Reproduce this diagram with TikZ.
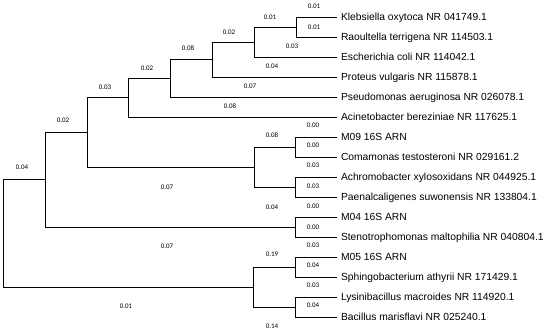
\documentclass[tikz,border=0pt]{standalone}
\usepackage{fontspec}
\setmainfont{Liberation Sans}
\newfontfamily\numfont{Carlito}
\tikzset{
  taxon/.style={anchor=west, inner xsep=4pt, inner ysep=0pt, outer sep=0pt,
    text height=7.4pt, text depth=0pt, font=\fontsize{10.3}{12}\selectfont},
  blen/.style={inner sep=0pt, font=\numfont\fontsize{7}{8}\selectfont},
  branch/.style={line width=0.9pt}
}
\begin{document}
\begin{tikzpicture}[x=1pt, y=-1pt]
\useasboundingbox (0,0) rectangle (550,335);
% leaves
\node[taxon] (v0) at (337,17) {Klebsiella oxytoca NR 041749.1};
\node[taxon] (v1) at (337,37) {Raoultella terrigena NR 114503.1};
\node[taxon] (v2) at (337,57) {Escherichia coli NR 114042.1};
\node[taxon] (v3) at (337,77) {Proteus vulgaris NR 115878.1};
\node[taxon] (v4) at (337,97) {Pseudomonas aeruginosa NR 026078.1};
\node[taxon] (v5) at (337,117) {Acinetobacter bereziniae NR 117625.1};
\node[taxon] (v6) at (337,137) {M09 16S ARN};
\node[taxon] (v7) at (337,157) {Comamonas testosteroni NR 029161.2};
\node[taxon] (v8) at (337,177) {Achromobacter xylosoxidans NR 044925.1};
\node[taxon] (v9) at (337,197) {Paenalcaligenes suwonensis NR 133804.1};
\node[taxon] (v10) at (337,217) {M04 16S ARN};
\node[taxon] (v11) at (337,237) {Stenotrophomonas maltophilia NR 040804.1};
\node[taxon] (v12) at (337,257) {M05 16S ARN};
\node[taxon] (v13) at (337,277) {Sphingobacterium athyrii NR 171429.1};
\node[taxon] (v14) at (337,297) {Lysinibacillus macroides NR 114920.1};
\node[taxon] (v15) at (337,317) {Bacillus marisflavi NR 025240.1};
% internal nodes
\coordinate (n0) at (296,27);
\coordinate (n1) at (254,42);
\coordinate (n2) at (212,59.5);
\coordinate (n3) at (170,78);
\coordinate (n4) at (128,97.5);
\coordinate (n5) at (295,147);
\coordinate (n6) at (295,187);
\coordinate (n7) at (254,167);
\coordinate (n8) at (87,132);
\coordinate (n9) at (295,227);
\coordinate (n10) at (45,179.5);
\coordinate (n11) at (295,267);
\coordinate (n12) at (295,307);
\coordinate (n13) at (253,287);
\coordinate (n14) at (3,233);
% branches
\draw[branch] (n0) |- (v0);
\draw[branch] (n0) |- (v1);
\draw[branch] (n1) |- (n0);
\draw[branch] (n1) |- (v2);
\draw[branch] (n2) |- (n1);
\draw[branch] (n2) |- (v3);
\draw[branch] (n3) |- (n2);
\draw[branch] (n3) |- (v4);
\draw[branch] (n4) |- (n3);
\draw[branch] (n4) |- (v5);
\draw[branch] (n5) |- (v6);
\draw[branch] (n5) |- (v7);
\draw[branch] (n6) |- (v8);
\draw[branch] (n6) |- (v9);
\draw[branch] (n7) |- (n5);
\draw[branch] (n7) |- (n6);
\draw[branch] (n8) |- (n4);
\draw[branch] (n8) |- (n7);
\draw[branch] (n9) |- (v10);
\draw[branch] (n9) |- (v11);
\draw[branch] (n10) |- (n8);
\draw[branch] (n10) |- (n9);
\draw[branch] (n11) |- (v12);
\draw[branch] (n11) |- (v13);
\draw[branch] (n12) |- (v14);
\draw[branch] (n12) |- (v15);
\draw[branch] (n13) |- (n11);
\draw[branch] (n13) |- (n12);
\draw[branch] (n14) |- (n10);
\draw[branch] (n14) |- (n13);
% branch lengths
\node[blen] (w0) at (314,6) {0.01};
\node[blen] (w1) at (314,27) {0.01};
\node[blen] (w2) at (292,46) {0.03};
\node[blen] (w3) at (272,66) {0.04};
\node[blen] (w4) at (250,86) {0.07};
\node[blen] (w5) at (230,106) {0.08};
\node[blen] (w6) at (313,125) {0.00};
\node[blen] (w7) at (313,145) {0.00};
\node[blen] (w8) at (313,165) {0.03};
\node[blen] (w9) at (313,186) {0.03};
\node[blen] (w10) at (313,206) {0.00};
\node[blen] (w11) at (313,227) {0.00};
\node[blen] (w12) at (313,245) {0.03};
\node[blen] (w13) at (313,265) {0.04};
\node[blen] (w14) at (313,285) {0.03};
\node[blen] (w15) at (313,305) {0.04};
\node[blen] (w16) at (270,17) {0.01};
\node[blen] (w17) at (229,32) {0.02};
\node[blen] (w18) at (188,48) {0.08};
\node[blen] (w19) at (147,68) {0.02};
\node[blen] (w20) at (105,87) {0.03};
\node[blen] (w21) at (63,120) {0.02};
\node[blen] (w22) at (22,167) {0.04};
\node[blen] (w23) at (167,187) {0.07};
\node[blen] (w24) at (272,135) {0.08};
\node[blen] (w25) at (272,207) {0.04};
\node[blen] (w26) at (167,246) {0.07};
\node[blen] (w27) at (126,306) {0.01};
\node[blen] (w28) at (272,254) {0.19};
\node[blen] (w29) at (272,326) {0.14};
\end{tikzpicture}
\end{document}
